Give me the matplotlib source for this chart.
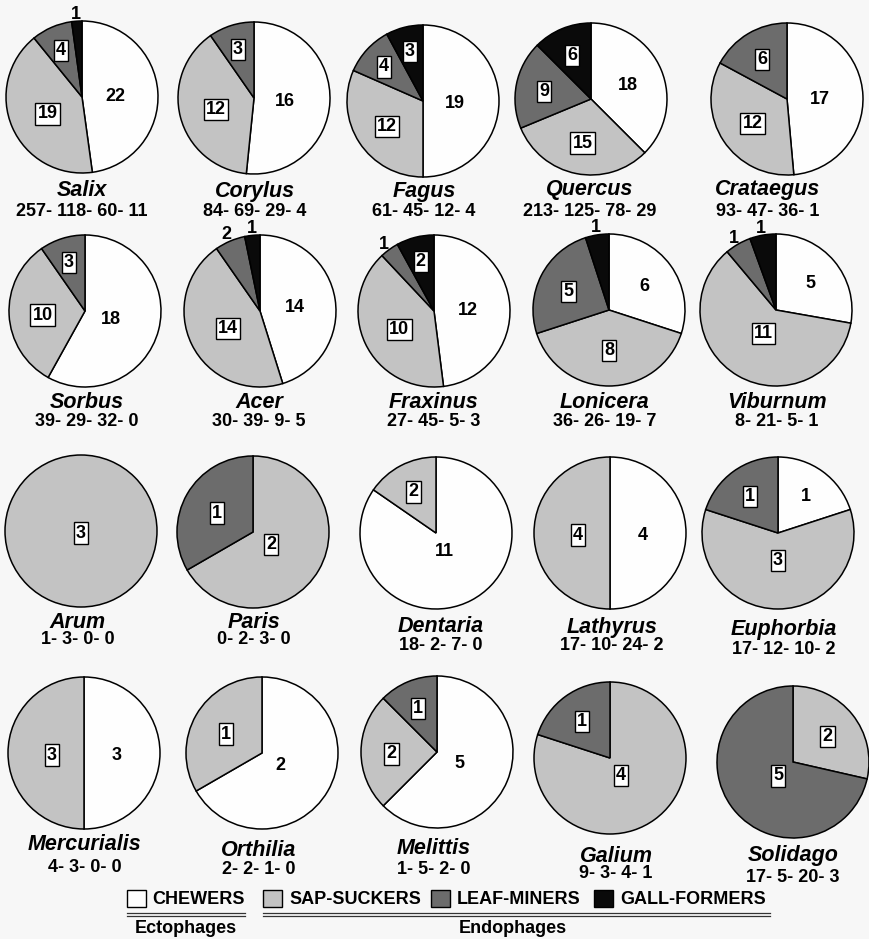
import matplotlib
matplotlib.use("Agg")
import matplotlib.pyplot as plt
import numpy as np
from matplotlib.patches import Rectangle

plt.rcParams['font.family'] = ['Liberation Sans', 'DejaVu Sans']

# ---- data: species counts per feeding guild on each host genus ----
genera = ["Salix", "Corylus", "Fagus", "Quercus", "Crataegus",
          "Sorbus", "Acer", "Fraxinus", "Lonicera", "Viburnum",
          "Arum", "Paris", "Dentaria", "Lathyrus", "Euphorbia",
          "Mercurialis", "Orthilia", "Melittis", "Galium", "Solidago"]
chewers = [22, 16, 19, 18, 17, 18, 14, 12, 6, 5, 0, 0, 11, 4, 1, 3, 2, 5, 0, 0]
sap_suckers = [19, 12, 12, 15, 12, 10, 14, 10, 8, 11, 3, 2, 2, 4, 3, 3, 1, 2, 4, 2]
leaf_miners = [4, 3, 4, 9, 6, 3, 2, 1, 5, 1, 0, 1, 0, 0, 1, 0, 0, 1, 1, 5]
gall_formers = [1, 0, 3, 6, 0, 0, 1, 2, 1, 1, 0, 0, 0, 0, 0, 0, 0, 0, 0, 0]
host_totals = [(257, 118, 60, 11), (84, 69, 29, 4), (61, 45, 12, 4), (213, 125, 78, 29),
               (93, 47, 36, 1), (39, 29, 32, 0), (30, 39, 9, 5), (27, 45, 5, 3),
               (36, 26, 19, 7), (8, 21, 5, 1), (1, 3, 0, 0), (0, 2, 3, 0),
               (18, 2, 7, 0), (17, 10, 24, 2), (17, 12, 10, 2), (4, 3, 0, 0),
               (2, 2, 1, 0), (1, 5, 2, 0), (9, 3, 4, 1), (17, 5, 20, 3)]
guilds = ["CHEWERS", "SAP-SUCKERS", "LEAF-MINERS", "GALL-FORMERS"]

# ---- layout (pixel units, measured from the top) ----
W, H = 870, 939
pie_x = [82, 254, 423, 591, 787, 85, 260, 434, 609, 776,
         81, 253, 436, 610, 778, 84, 262, 437, 610, 793]
pie_y = [97, 98, 101, 99, 99, 311, 311, 311, 310, 310,
         531, 532, 533, 533, 533, 753, 753, 752, 758, 762]
R = 76
cap_x = [82, 255, 424, 590, 768, 87, 259, 434, 605, 777,
         78, 254, 441, 612, 784, 85, 259, 434, 616, 793]
name_y = [189, 189, 189, 188, 188, 401, 401, 401, 401, 401,
          620, 620, 625, 625, 628, 843, 848, 846, 854, 854]
num_y = [210, 210, 210, 210, 210, 420, 420, 420, 420, 420,
         638, 638, 643, 643, 647, 866, 867, 868, 872, 875]

BG = "#f7f7f7"
colors = ["#fefefe", "#c3c3c3", "#6c6c6c", "#0a0a0a"]

fig = plt.figure(figsize=(W / 100, H / 100), dpi=100, facecolor=BG)
ax = fig.add_axes([0, 0, 1, 1])
ax.set_facecolor(BG)


def up(y):
    return H - y


LBL = 13  # pt
for i, name in enumerate(genera):
    vals = [chewers[i], sap_suckers[i], leaf_miners[i], gall_formers[i]]
    keep = [k for k in range(4) if vals[k] > 0]
    cx, cy = pie_x[i], up(pie_y[i])
    ax.pie([vals[k] for k in keep], colors=[colors[k] for k in keep],
           startangle=90, counterclock=False, center=(cx, cy), radius=R,
           wedgeprops=dict(edgecolor="black", linewidth=1.1))

    total = sum(vals)
    cum = 0.0
    for k in range(4):
        v = vals[k]
        if v == 0:
            continue
        f = v / total
        mid = np.radians((cum + f / 2) * 360.0)
        cum += f
        theta = 2 * np.pi * f
        outside = f < 0.07
        if f >= 1:
            d = 0.0
        elif outside:
            d = 1.12
        else:
            d = 4 * np.sin(theta / 2) / (3 * theta)
            if f < 0.12:
                d = max(d, 0.7)
            d = max(d, 0.25)
        tx = cx + d * R * np.sin(mid)
        ty = cy + d * R * np.cos(mid)
        kw = dict(ha="center", va="center_baseline", fontsize=LBL,
                  fontweight="bold", color="black", zorder=5)
        if k > 0 and not outside:
            kw["bbox"] = dict(boxstyle="square,pad=0.12", fc="white",
                              ec="black", lw=1.0)
        ax.text(tx, ty, str(v), **kw)

    ax.text(cap_x[i], up(name_y[i] + 7.5), name, ha="center", va="baseline",
            fontsize=15.5, fontweight="bold", fontstyle="italic")
    ax.text(cap_x[i], up(num_y[i] + 6.5), "- ".join(str(n) for n in host_totals[i]),
            ha="center", va="baseline", fontsize=13, fontweight="bold")

# ---- legend ----
box_x = [127, 263, 431, 594]
txt_x = [152, 289, 457, 620]
for k in range(4):
    ax.add_patch(Rectangle((box_x[k], up(907)), 19, 17, facecolor=colors[k],
                           edgecolor="black", linewidth=1.0))
    ax.text(txt_x[k], up(904.5), guilds[k], ha="left", va="baseline",
            fontsize=13, fontweight="bold")

for x0, x1 in [(127, 245), (263, 770)]:
    for yy in (912.5, 915.5):
        ax.plot([x0, x1], [up(yy), up(yy)], color="#333333", lw=0.9)
ax.text(186, up(933), "Ectophages", ha="center", va="baseline",
        fontsize=13, fontweight="bold")
ax.text(513, up(933), "Endophages", ha="center", va="baseline",
        fontsize=13, fontweight="bold")

ax.set_xlim(0, W)
ax.set_ylim(0, H)
ax.set_aspect("equal")
ax.axis("off")

fig.savefig("out.png", dpi=100, facecolor=BG)
